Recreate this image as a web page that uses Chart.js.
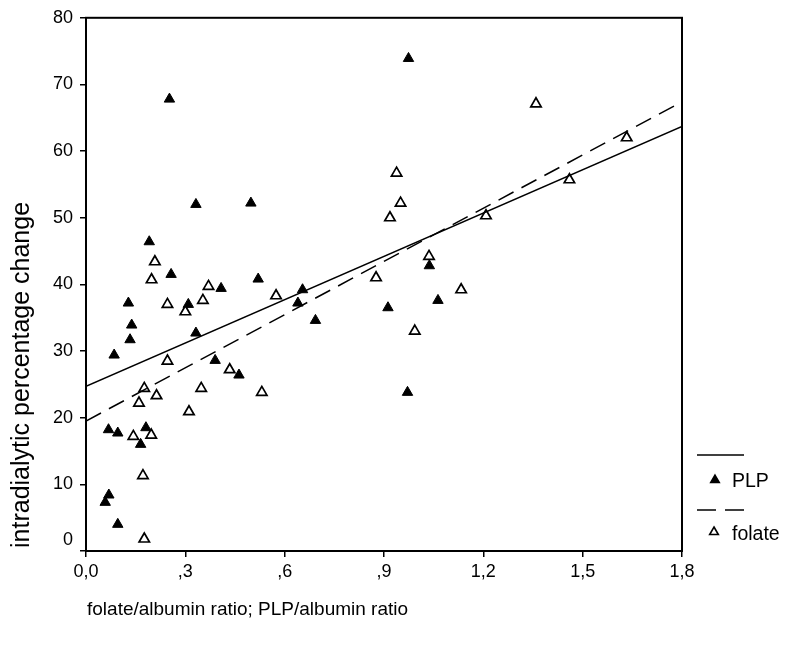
<!DOCTYPE html>
<html>
<head>
<meta charset="utf-8">
<script src="https://cdn.jsdelivr.net/npm/chart.js@4"></script>
<style>
  html, body { margin: 0; padding: 0; background: #ffffff; }
  #wrap { position: relative; width: 795px; height: 646px; }
</style>
</head>
<body>
<div id="wrap"><canvas id="c"></canvas></div>
<script>
// ---- data ----
const plpX = [0.252, 0.332, 0.498, 0.191, 0.257, 0.408, 0.520, 0.640, 0.128, 0.309,
              0.138, 0.133, 0.332, 0.085, 0.390, 0.462, 0.068, 0.096, 0.181, 0.165,
              0.069, 0.058, 0.096, 0.654, 0.693, 1.037, 1.063, 0.912, 0.971, 0.974];
const plpY = [67.8, 52.0, 52.2, 46.4, 41.5, 39.4, 40.8, 37.2, 37.2, 37.0,
              33.9, 31.7, 32.7, 29.4, 28.6, 26.4, 18.2, 17.7, 18.5, 16.0,
              8.4, 7.3, 4.0, 39.2, 34.6, 42.8, 37.6, 36.5, 23.8, 73.9];

const folateX = [0.208, 0.198, 0.370, 0.574, 0.246, 0.353, 0.300, 0.246, 0.434, 0.176,
                 0.213, 0.348, 0.531, 0.160, 0.311, 0.143, 0.197, 0.172, 0.176, 0.938,
                 0.950, 0.918, 1.036, 0.876, 1.133, 0.993, 1.208, 1.359, 1.633, 1.460];
const folateY = [43.4, 40.7, 39.7, 38.3, 37.0, 37.6, 35.9, 28.5, 27.2, 24.4,
                 23.3, 24.4, 23.8, 22.2, 20.9, 17.2, 17.4, 11.3, 1.8, 56.7,
                 52.2, 50.0, 44.2, 41.0, 39.2, 33.0, 50.3, 67.1, 62.0, 55.7];

// fitted regression lines (value at x = 0 and x = 1.8)
const fitX = [0, 1.8];
const plpFit = [24.7, 63.7];
const folateFit = [19.5, 67.4];

const xTickLabels = ['0,0', ',3', ',6', ',9', '1,2', '1,5', '1,8'];
const yTickLabels = ['0', '10', '20', '30', '40', '50', '60', '70', '80'];
const seriesNames = ['PLP', 'folate'];
const xTitle = 'folate/albumin ratio; PLP/albumin ratio';
const yTitle = 'intradialytic percentage change';

// ---- build ----
const toPts = (xs, ys) => xs.map((x, i) => ({ x: x, y: ys[i] }));
const FONT = '"Liberation Sans", Arial, sans-serif';

const extras = {
  id: 'extras',
  afterDatasetsDraw(chart) {
    const { ctx, chartArea: a } = chart;
    ctx.save();
    ctx.strokeStyle = '#000';
    ctx.lineWidth = 2;
    ctx.strokeRect(a.left, a.top, a.right - a.left, a.bottom - a.top);
    ctx.restore();
  },
  afterDraw(chart) {
    const { ctx, chartArea: a } = chart;
    const ys = chart.scales.y;
    ctx.save();
    ctx.fillStyle = '#000';
    // zero label, shifted up as in the reference
    ctx.font = '18px ' + FONT;
    ctx.textAlign = 'right';
    ctx.textBaseline = 'middle';
    ctx.fillText(yTickLabels[0], a.left - 13, ys.getPixelForValue(0) - 11);

    // axis titles
    ctx.font = '19px ' + FONT;
    ctx.textAlign = 'left';
    ctx.textBaseline = 'middle';
    ctx.fillText(xTitle, a.left + 1, 610);
    ctx.save();
    ctx.font = '25px ' + FONT;
    ctx.translate(29, 548);
    ctx.rotate(-Math.PI / 2);
    ctx.textAlign = 'left';
    ctx.textBaseline = 'alphabetic';
    ctx.fillText(yTitle, 0, 0);
    ctx.restore();

    // legend
    const lx0 = a.right + 15, lx1 = a.right + 62;
    ctx.strokeStyle = '#000';
    ctx.lineWidth = 1.5;
    ctx.beginPath(); ctx.moveTo(lx0, 455); ctx.lineTo(lx1, 455); ctx.stroke();
    ctx.setLineDash([19, 9]);
    ctx.beginPath(); ctx.moveTo(lx0, 510); ctx.lineTo(lx1, 510); ctx.stroke();
    ctx.setLineDash([]);
    ctx.fillStyle = '#000';
    Chart.helpers.drawPoint(ctx, { pointStyle: 'triangle', radius: 5, borderWidth: 1 }, a.right + 33, 480);
    ctx.fillStyle = '#fff';
    ctx.lineWidth = 1.6;
    Chart.helpers.drawPoint(ctx, { pointStyle: 'triangle', radius: 5, borderWidth: 1.6 }, a.right + 32, 532);
    ctx.fillStyle = '#000';
    ctx.font = '19.5px ' + FONT;
    ctx.textAlign = 'left';
    ctx.textBaseline = 'middle';
    ctx.fillText(seriesNames[0], a.right + 50, 482);
    ctx.fillText(seriesNames[1], a.right + 50, 535);
    ctx.restore();
  }
};

new Chart(document.getElementById('c'), {
  type: 'scatter',
  data: {
    datasets: [
      {
        label: seriesNames[0] + ' fit', type: 'line', order: 0,
        data: toPts(fitX, plpFit),
        borderColor: '#000', borderWidth: 1.5, pointRadius: 0, fill: false
      },
      {
        label: seriesNames[1] + ' fit', type: 'line', order: 0,
        data: toPts(fitX, folateFit),
        borderColor: '#000', borderWidth: 1.5, borderDash: [17, 9], pointRadius: 0, fill: false
      },
      {
        label: seriesNames[0], order: 2,
        data: toPts(plpX, plpY),
        pointStyle: 'triangle', pointRadius: 6,
        backgroundColor: '#000', borderColor: '#000', borderWidth: 1
      },
      {
        label: seriesNames[1], order: 1,
        data: toPts(folateX, folateY),
        pointStyle: 'triangle', pointRadius: 6,
        backgroundColor: '#fff', borderColor: '#000', borderWidth: 1.7
      }
    ]
  },
  options: {
    responsive: true,
    maintainAspectRatio: false,
    animation: false,
    devicePixelRatio: 1,
    layout: { padding: { left: 0, top: 13, right: 113, bottom: 0 } },
    plugins: { legend: { display: false }, tooltip: { enabled: false } },
    scales: {
      x: {
        type: 'linear', min: 0, max: 1.8,
        afterBuildTicks: s => { s.ticks = xTickLabels.map((_, i) => ({ value: i * 0.3 })); },
        afterFit: s => { s.height = 95; },
        border: { display: false },
        grid: { drawOnChartArea: false, drawTicks: true, tickLength: 6, color: '#000', lineWidth: 1.5 },
        ticks: {
          color: '#000', font: { family: FONT, size: 18 }, padding: 4,
          maxRotation: 0, autoSkip: false,
          callback: (v, i) => xTickLabels[i]
        }
      },
      y: {
        type: 'linear', min: 0, max: 80,
        afterBuildTicks: s => { s.ticks = yTickLabels.map((_, i) => ({ value: i * 10 })); },
        afterFit: s => { s.width = 86; },
        border: { display: false },
        grid: { drawOnChartArea: false, drawTicks: true, tickLength: 6, color: '#000', lineWidth: 1.5 },
        ticks: {
          color: '#000', font: { family: FONT, size: 18 }, padding: 7,
          autoSkip: false,
          callback: (v, i) => (i === 0 ? '' : yTickLabels[i])
        }
      }
    }
  },
  plugins: [extras]
});
</script>
</body>
</html>
